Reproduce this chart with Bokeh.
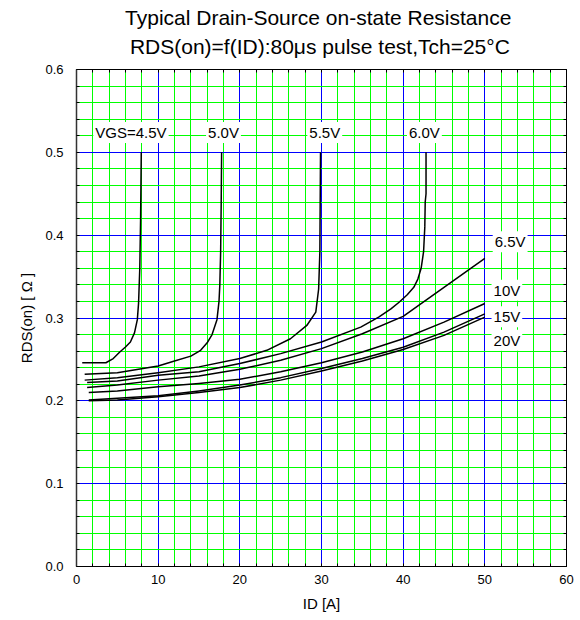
from bokeh.plotting import figure
from bokeh.models import (Range1d, FixedTicker, LinearAxis, Label, PrintfTickFormatter)
from bokeh.embed import file_html
from bokeh.resources import INLINE

# Drain current ID [A] and on-state resistance RDS(on) [ohm] per gate voltage
id_45 = [0.7, 3.6, 4.5, 5.3, 6.0, 6.6, 7.1, 7.45, 7.6, 7.75, 7.85, 7.93]
r_45 = [0.246, 0.246, 0.251, 0.259, 0.265, 0.271, 0.282, 0.298, 0.318, 0.36, 0.42, 0.50]

id_50 = [1.0, 5, 10, 12, 14, 15.2, 16.0, 16.6, 17.2, 17.45, 17.55, 17.65, 17.72, 17.77]
r_50 = [0.232, 0.234, 0.242, 0.248, 0.254, 0.261, 0.270, 0.280, 0.298, 0.320, 0.340, 0.380, 0.44, 0.50]

id_55 = [1.0, 5, 10, 15, 20, 23.3, 26.2, 28.2, 29.3, 29.65, 29.8, 29.88]
r_55 = [0.225, 0.228, 0.234, 0.241, 0.251, 0.261, 0.275, 0.291, 0.307, 0.335, 0.38, 0.50]

id_60 = [1.3, 5, 10, 15, 20, 25, 30, 34.8, 37.0, 38.5, 39.5, 40.5, 41.3, 41.8, 42.2,
         42.5, 42.65, 42.7, 42.8, 42.8]
r_60 = [0.222, 0.224, 0.231, 0.235, 0.245, 0.257, 0.271, 0.289, 0.301, 0.311, 0.319, 0.328,
        0.337, 0.347, 0.360, 0.380, 0.41, 0.44, 0.45, 0.50]

id_65 = [1.3, 5, 10, 15, 20, 25, 30, 35, 40, 45, 50]
r_65 = [0.216, 0.219, 0.225, 0.230, 0.238, 0.249, 0.263, 0.281, 0.302, 0.337, 0.372]

id_hi = [1.5, 5, 10, 15, 20, 25, 30, 35, 40, 45, 50]
r_10 = [0.210, 0.212, 0.217, 0.221, 0.226, 0.235, 0.246, 0.259, 0.275, 0.295, 0.3175]
r_15 = [0.201, 0.203, 0.206, 0.212, 0.219, 0.228, 0.239, 0.251, 0.2646, 0.283, 0.305]
r_20 = [0.200, 0.201, 0.205, 0.210, 0.216, 0.225, 0.236, 0.248, 0.262, 0.279, 0.301]

curves = [
    (id_45, r_45), (id_50, r_50), (id_55, r_55), (id_60, r_60),
    (id_65, r_65), (id_hi, r_10), (id_hi, r_15), (id_hi, r_20),
]

# Gate-voltage labels: text, x, y
vgs_labels = ["VGS=4.5V", "5.0V", "5.5V", "6.0V", "6.5V", "10V", "15V", "20V"]
vgs_label_x = [6.67, 18.0, 30.4, 42.6, 53.1, 52.7, 52.7, 52.7]
vgs_label_y = [0.524, 0.524, 0.524, 0.524, 0.392, 0.3335, 0.3015, 0.273]

# Axis ticks: labelled majors every 10 A / 0.1 ohm, minors in five steps
x_major = [0, 10, 20, 30, 40, 50, 60]
x_all = [i * 2 for i in range(31)]
x_minor = [v for i, v in enumerate(x_all) if i % 5 != 0]
y_major = [0.0, 0.1, 0.2, 0.3, 0.4, 0.5, 0.6]
y_all = [round(i * 0.02, 2) for i in range(31)]
y_minor = [v for i, v in enumerate(y_all) if i % 5 != 0]

# Heading lines: centre and baseline, in the chart's axis units (above the frame)
title_lines = ["Typical Drain-Source on-state Resistance",
               "RDS(on)=f(ID):80\u03bcs pulse test,Tch=25\u00b0C"]
title_x = [29.6, 29.8]
title_y = [0.6627, 0.6277]

FONT = "Liberation Sans"

p = figure(width=580, height=620, output_backend="svg", toolbar_location=None,
           x_range=Range1d(0, 60), y_range=Range1d(0, 0.6),
           min_border_left=76, min_border_right=14, min_border_top=69, min_border_bottom=54,
           x_axis_label="ID [A]", y_axis_label="RDS(on) [ \u03a9 ]")
p.background_fill_color = "white"
p.border_fill_color = "white"
p.outline_line_color = "black"
p.outline_line_width = 1

xt = FixedTicker(ticks=x_major, minor_ticks=x_minor)
yt = FixedTicker(ticks=y_major, minor_ticks=y_minor)
# frame-edge ticks without labels (top and right)
xt_edge = FixedTicker(ticks=[], minor_ticks=x_all)
yt_edge = FixedTicker(ticks=[], minor_ticks=y_all)

def style_axis(ax):
    ax.major_tick_in = 3
    ax.major_tick_out = 0
    ax.minor_tick_in = 3
    ax.minor_tick_out = 0
    ax.axis_line_color = "black"
    ax.major_tick_line_color = "black"
    ax.minor_tick_line_color = "black"
    ax.major_label_text_font = FONT
    ax.major_label_text_font_size = "13px"
    ax.major_label_text_color = "black"
    ax.axis_label_text_font = FONT
    ax.axis_label_text_font_size = "15px"
    ax.axis_label_text_font_style = "normal"
    ax.axis_label_text_color = "black"

xa = p.xaxis[0]
xa.ticker = xt
style_axis(xa)
xa.major_label_standoff = 8
xa.axis_label_standoff = 8

ya = p.yaxis[0]
ya.ticker = yt
ya.formatter = PrintfTickFormatter(format="%.1f")
style_axis(ya)
ya.axis_line_width = 1.5
ya.axis_line_color = "#333333"
ya.major_label_standoff = 13
ya.axis_label_standoff = 7

top_ax = LinearAxis(ticker=xt_edge, major_label_standoff=0)
style_axis(top_ax)
right_ax = LinearAxis(ticker=yt_edge, major_label_standoff=0)
style_axis(right_ax)
p.add_layout(top_ax, "above")
p.add_layout(right_ax, "right")

for g in (p.xgrid[0], p.ygrid[0]):
    g.grid_line_color = "#0000ff"
    g.grid_line_width = 1
    g.minor_grid_line_color = "#00ff00"
    g.minor_grid_line_width = 1
p.xgrid[0].ticker = xt
p.ygrid[0].ticker = yt

for xs, ys in curves:
    p.line(xs, ys, line_color="black", line_width=1.5, line_join="round")

for txt, lx, ly in zip(vgs_labels, vgs_label_x, vgs_label_y):
    p.add_layout(Label(x=lx, y=ly, text=txt, text_align="center", text_baseline="middle",
                       text_font=FONT, text_font_size="15px", text_color="black",
                       background_fill_color="white", padding=2))

# Heading, drawn in the panel above the frame
for txt, lx, ly in zip(title_lines, title_x, title_y):
    p.add_layout(Label(x=lx, y=ly, text=txt, text_align="center",
                       text_baseline="alphabetic", text_font=FONT, text_font_size="21px",
                       text_color="black"), "above")

open("out.html", "w").write(file_html(p, INLINE))
